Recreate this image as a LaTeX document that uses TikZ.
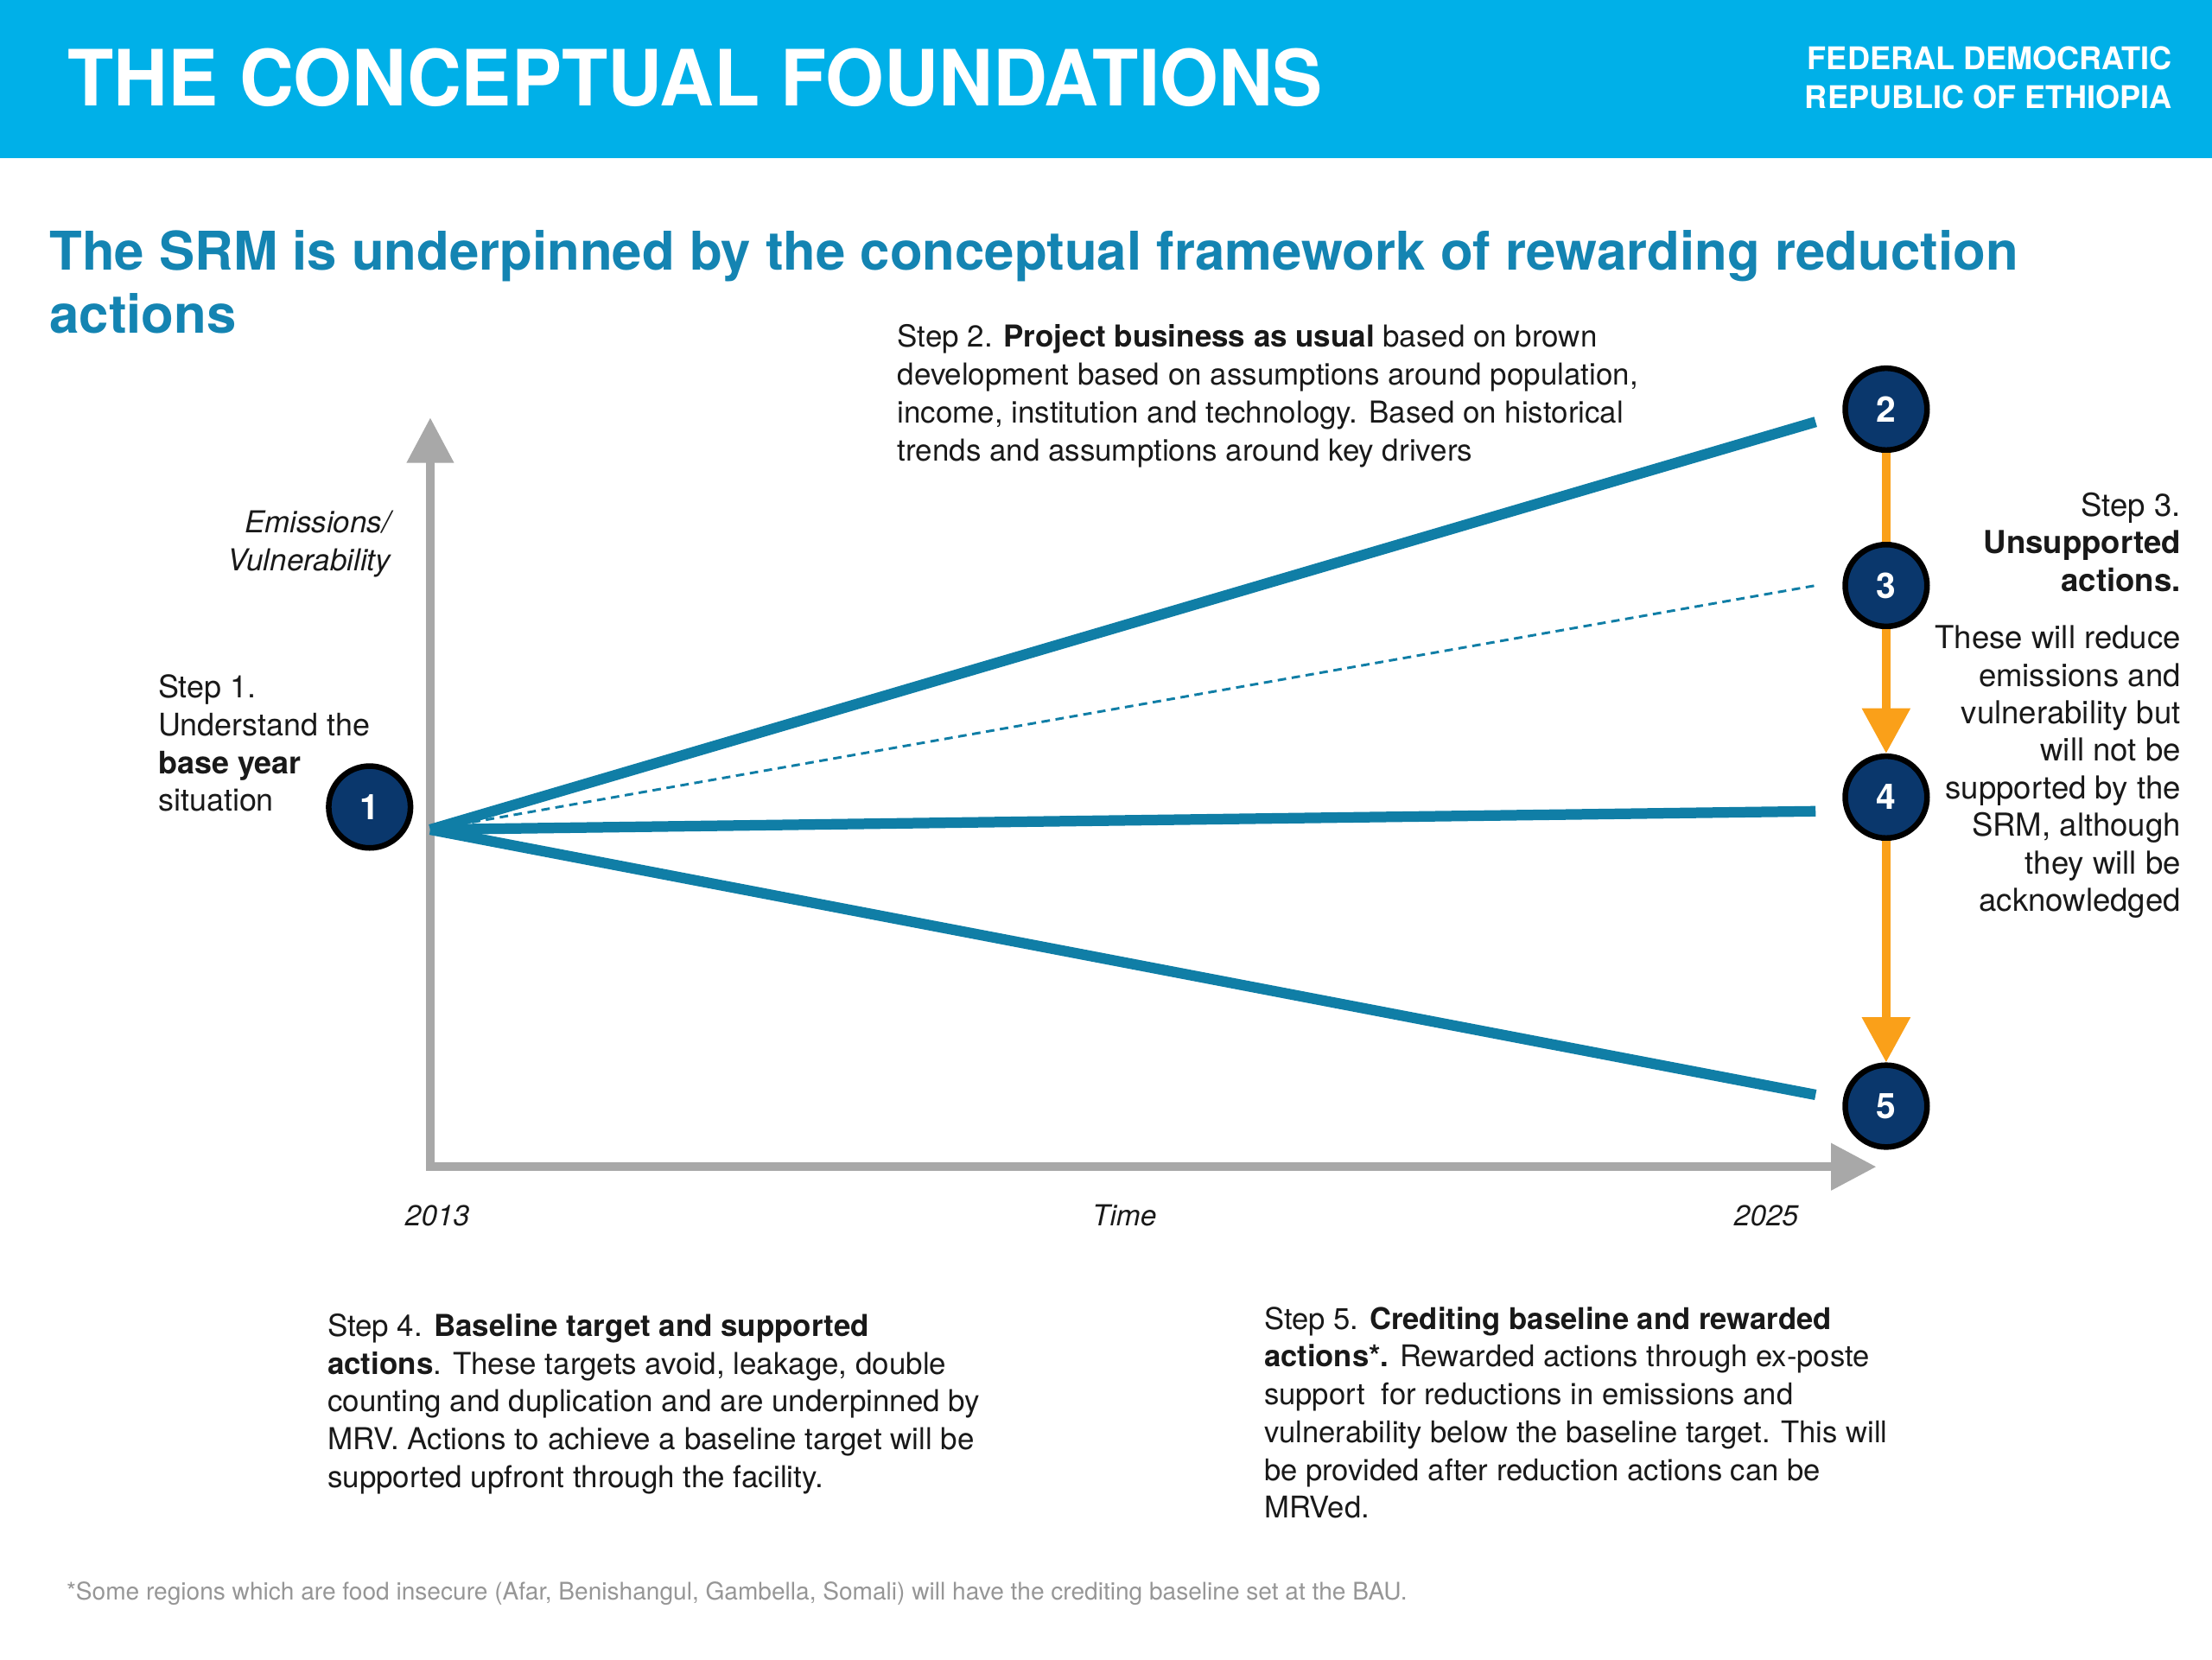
\documentclass[tikz,border=0pt]{standalone}
\usepackage{fontspec}
\setmainfont{TeX Gyre Heros}
\usepackage{xcolor}
\usetikzlibrary{arrows.meta,positioning}
\definecolor{hdrblue}{RGB}{0,176,232}
\definecolor{headblue}{RGB}{20,132,178}
\definecolor{lineblue}{RGB}{16,126,166}
\definecolor{stepnavy}{RGB}{10,55,108}
\definecolor{floworange}{RGB}{250,160,25}
\definecolor{axisgray}{RGB}{168,168,168}
\definecolor{bodytxt}{RGB}{25,25,25}
\definecolor{notegray}{RGB}{150,150,150}
\tikzset{
  stepdot/.style={circle,draw=black,line width=4pt,fill=stepnavy,minimum size=58pt,inner sep=0pt,
    text=white,font=\fontsize{25}{25}\selectfont\bfseries},
  bodytext/.style={inner sep=0pt,anchor=north west,align=left,text=bodytxt,
    font=\fontsize{21.4}{26.8}\selectfont},
  axislabel/.style={inner sep=0pt,anchor=base,text=bodytxt,font=\fontsize{20.5}{26.8}\selectfont\itshape},
  trend/.style={line width=7.5pt,color=lineblue},
  flow/.style={line width=6pt,color=floworange},
}
\begin{document}
\begin{tikzpicture}[x=1pt,y=-1pt]
\useasboundingbox (0,0) rectangle (1568,1176);
%%%%% Header %%%%%
\fill[hdrblue] (0,0) rectangle (1568,112);
\node[inner sep=0pt,anchor=base west,text=white,xscale=0.97,font=\fontsize{55}{55}\selectfont\bfseries] (title) at (48,75) {THE CONCEPTUAL FOUNDATIONS};
\node[inner sep=0pt,anchor=north east,align=right,text=white,font=\fontsize{22.1}{27}\selectfont\bfseries] (country) at (1540,33) {FEDERAL DEMOCRATIC\\REPUBLIC OF ETHIOPIA};
\node[inner sep=0pt,anchor=north west,align=left,text=headblue,font=\fontsize{37.8}{45}\selectfont\bfseries] (subtitle) at (35,163) {The SRM is underpinned by the conceptual framework of rewarding reduction\\actions};
%%%%% Axis %%%%%
\coordinate (o) at (305,588);
\coordinate (ax) at (305,827);
\coordinate (ytop) at (305,296);
\coordinate (xend) at (1330,827);
\draw[axisgray,line width=6pt,-{Triangle[width=32pt,length=32pt]}] ([yshift=3pt]ax) -- (ytop);
\draw[axisgray,line width=6pt,-{Triangle[width=32pt,length=32pt]}] ([xshift=-3pt]ax) -- (xend);
\node[inner sep=0pt,anchor=north east,align=right,text=bodytxt,font=\fontsize{21.4}{26.8}\selectfont\itshape] (ylab) at (277,362) {Emissions/\\Vulnerability};
\node[axislabel] (y13) at (310,869) {2013};
\node[axislabel] (ylbl) at (797,869) {Time};
\node[axislabel] (y25) at (1252,869) {2025};
%%%%% Steps %%%%%
\node[stepdot] (c1) at (262,572) {1};
\node[stepdot] (c2) at (1337,290) {2};
\node[stepdot] (c3) at (1337,415) {3};
\node[stepdot] (c4) at (1337,565) {4};
\node[stepdot] (c5) at (1337,784) {5};
\coordinate (e2) at (1287,299);
\coordinate (e3) at (1287,415);
\coordinate (e4) at (1287,575);
\coordinate (e5) at (1287,776);
\draw[trend] (o) -- (e2);
\draw[trend,line width=1.8pt,dash pattern=on 6pt off 4pt] (o) -- (e3);
\draw[trend] (o) -- (e4);
\draw[trend] (o) -- (e5);
\draw[flow] (c2) -- (c3);
\draw[flow,-{Triangle[width=33pt,length=32pt]}] (c3) -- (c4);
\draw[flow,-{Triangle[width=33pt,length=32pt]}] (c4) -- (c5);
%%%%% Texts %%%%%
\node[bodytext,font=\fontsize{22}{26.8}\selectfont] (s1) at (112,478) {Step 1.\\Understand the\\\textbf{base year}\\situation};
\node[bodytext] (s2) at (636,230) {Step 2. \textbf{Project business as usual} based on brown\\development based on assumptions around population,\\income, institution and technology. Based on historical\\trends and assumptions around key drivers};
\node[bodytext,anchor=north east,align=right,font=\fontsize{22.4}{26.6}\selectfont] (s3) at (1546,349) {Step 3.\\\textbf{Unsupported}\\\textbf{actions.}\\[14pt]These will reduce\\emissions and\\vulnerability but\\will not be\\supported by the\\SRM, although\\they will be\\acknowledged};
\node[bodytext] (s4) at (232,931) {Step 4. \textbf{Baseline target and supported}\\\textbf{actions}. These targets avoid, leakage, double\\counting and duplication and are underpinned by\\MRV. Actions to achieve a baseline target will be\\supported upfront through the facility.};
\node[bodytext,font=\fontsize{21.2}{26.8}\selectfont] (s5) at (896,926) {Step 5. \textbf{Crediting baseline and rewarded}\\\textbf{actions*.} Rewarded actions through ex-poste\\support~ for reductions in emissions and\\vulnerability below the baseline target. This will\\be provided after reduction actions can be\\MRVed.};
\node[inner sep=0pt,anchor=base west,text=notegray,font=\fontsize{17.2}{18}\selectfont] (note) at (47,1134) {*Some regions which are food insecure (Afar, Benishangul, Gambella, Somali) will have the crediting baseline set at the BAU.};
\end{tikzpicture}
\end{document}
